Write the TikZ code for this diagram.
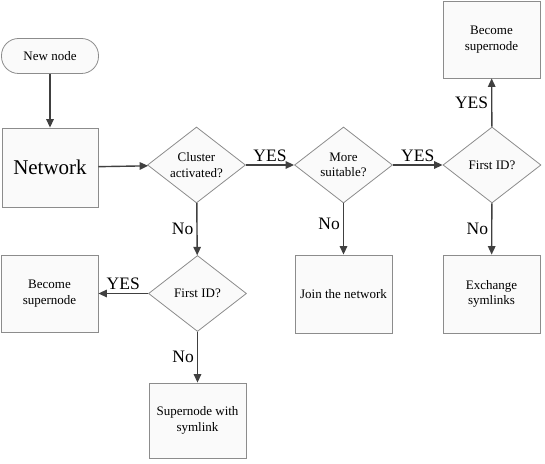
\documentclass[tikz,border=0pt]{standalone}
\usepackage{fontspec}
\setmainfont{Liberation Serif}
\usetikzlibrary{arrows.meta,shapes.geometric,positioning}

\definecolor{boxline}{RGB}{140,140,140}
\definecolor{boxfill}{RGB}{250,250,250}
\definecolor{flowline}{RGB}{64,64,64}

\begin{document}
\begin{tikzpicture}[x=1pt,y=1pt,
		procbox/.style={draw=boxline,fill=boxfill,line width=0.8pt,minimum width=97pt,minimum height=77pt,
			inner sep=2pt,align=center,font=\fontsize{13}{15.5}\selectfont},
		startbox/.style={procbox,rounded corners=17pt,minimum height=35pt},
		decision/.style={diamond,draw=boxline,fill=boxfill,line width=0.8pt,aspect=1.3,inner sep=0pt,
			minimum width=98pt,minimum height=76pt,align=center,font=\fontsize{13}{15.5}\selectfont},
		flow/.style={draw=flowline,line width=1.4pt,-{Triangle[length=8.5pt,width=7.5pt]}},
		answer/.style={font=\fontsize{17.5}{20}\selectfont,inner sep=3pt}]
		\useasboundingbox (0,0) rectangle (545,463);% page size

		% left column
		\node[startbox] (newnode) at (50,407) {New node};
		\node[procbox,minimum width=96pt,minimum height=79pt,font=\fontsize{21}{24}\selectfont] (network) at (50,295.5) {Network};
		\node[procbox] (leftsuper) at (49.5,169.5) {Become\\supernode};

		% middle columns
		\node[decision] (cluster) at (196.5,298) {Cluster\\activated?};
		\node[decision] (lowfirst) at (197.5,169.5) {First ID?};
		\node[procbox,minimum height=75pt] (withlink) at (197.5,42.5) {Supernode with\\symlink};
		\node[decision] (suitable) at (343.5,298) {More\\suitable?};
		\node[procbox,minimum height=78pt] (join) at (343.5,169) {Join the network};

		% right column
		\node[decision] (topfirst) at (492,298) {First ID?};
		\node[procbox] (topsuper) at (491.5,423.5) {Become\\supernode};
		\node[procbox,minimum height=78pt] (exchange) at (491.5,169) {Exchange\\symlinks};

		\draw[flow] (newnode) -- (network);
		\draw[flow] (network) -- (cluster);
		\draw[flow] (cluster) -- node[answer,above] {YES} (suitable);
		\draw[flow] (suitable) -- node[answer,above] {YES} (topfirst);
		\draw[flow] (topfirst) -- node[answer,left] {YES} (topsuper);
		\draw[flow] (topfirst) -- node[answer,left] {No} (exchange);
		\draw[flow] (suitable) -- node[answer,left,pos=0.4] {No} (join);
		\draw[flow] (cluster) -- node[answer,left] {No} (lowfirst);
		\draw[flow] (lowfirst) -- node[answer,above] {YES} (leftsuper);
		\draw[flow] (lowfirst) -- node[answer,left] {No} (withlink);
	\end{tikzpicture}
\end{document}
